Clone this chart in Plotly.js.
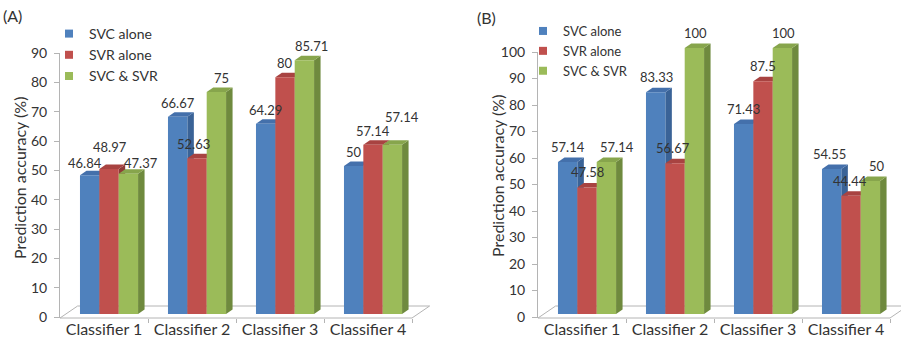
<!DOCTYPE html>
<html>
<head>
<meta charset="utf-8">
<script src="https://cdn.plot.ly/plotly-3.0.1.min.js"></script>
<style>
  html, body { margin: 0; padding: 0; background: #ffffff; }
  #chart { width: 901px; height: 348px; }
</style>
</head>
<body>
<div id="chart"></div>
<script>
// ---- data ----
const categories = ['Classifier 1', 'Classifier 2', 'Classifier 3', 'Classifier 4'];
const seriesNames = ['SVC alone', 'SVR alone', 'SVC & SVR'];
const valueTitle = 'Prediction accuracy (%)';

// panel (A)
const svcAloneA = [46.84, 66.67, 64.29, 50];
const svrAloneA = [48.97, 52.63, 80, 57.14];
const svcSvrA   = [47.37, 75, 85.71, 57.14];
const yTicksA   = [0, 10, 20, 30, 40, 50, 60, 70, 80, 90];

// panel (B)
const svcAloneB = [57.14, 83.33, 71.43, 54.55];
const svrAloneB = [47.58, 56.67, 87.5, 44.44];
const svcSvrB   = [57.14, 100, 100, 50];
const yTicksB   = [0, 10, 20, 30, 40, 50, 60, 70, 80, 90, 100];

// ---- styling / geometry ----
const W = 901, H = 348;
const FONT = 'Lato, "Open Sans", sans-serif';
const TEXT = '#333333';
const AXIS = '#b4b4b4';
const FRONT = ['#4f81bd', '#c0504d', '#9bbb59'];
const SIDE  = ['#3a6397', '#8f3a37', '#6f8a3e'];
const TOP   = ['#4470ab', '#a84341', '#87a54c'];

const CAT_PX = 88;          // width of one category slot
const BAR_W = 0.22;         // bar width (category units)
const FIRST_OFFSET = -0.273;
const DEPTH_X = 0.074;      // bar depth, category units
const FLOOR_DX = 0.2;       // floor depth, category units
const FLOOR_DY_PX = 12;
const FLOOR_PX = 318;       // front edge of the floor
const CEIL_PX = 20;

const py = p => (H - p) / H;
const pxf = p => p / W;
const catPos = categories.map((_, i) => i + 1);

const panels = [
  {
    tag: '(A)', series: [svcAloneA, svrAloneA, svcSvrA], yTicks: yTicksA,
    xa: 'x', ya: 'y', ba: 'y3', legend: 'legend',
    axisLeft: 60, xMax: 4.75, zeroPx: 317, topPx: 53,
    barBasePx: 314, barScale: 2.96, depthYPx: 4.5,
    labelLift: 14,
    labelDx: [[-5, 0, 0, 0], [1, -4, 0, 0], [13, 5, 7, 10]],
    labelDy: [[-2, 0, 0, 0], [8, 0, 0, 0], [-3, 0, 0, 14]],
    legendFont: 14, legendX: 49, legendY: 18,
    tagX: 1, tagAnchor: 'left', tagY: 15,
    titleX: 19, titleY: 178
  },
  {
    tag: '(B)', series: [svcAloneB, svrAloneB, svcSvrB], yTicks: yTicksB,
    xa: 'x2', ya: 'y2', ba: 'y4', legend: 'legend2',
    axisLeft: 538, xMax: 0.5 + (901 - 538) / 88, zeroPx: 317, topPx: 52,
    barBasePx: 314, barScale: 2.66, depthYPx: 4.5,
    labelLift: 15,
    labelDx: [[0, 1, 0, -2], [0, -2, 0, -1], [11, 1, 1, 7]],
    labelDy: [[0, 0, 0, 0], [0, 0, 0, 0], [0, 0, 0, 0]],
    legendFont: 13, legendX: 523, legendY: 16,
    tagX: 475, tagAnchor: 'left', tagY: 18,
    titleX: 497, titleY: 176
  }
];

const axisKey = id => (id[0] === 'x' ? 'xaxis' : 'yaxis') + id.slice(1);

const traces = [];
const shapes = [];
const annotations = [];
const layout = {
  width: W, height: H,
  margin: { l: 0, r: 0, t: 0, b: 0 },
  paper_bgcolor: '#ffffff', plot_bgcolor: 'rgba(0,0,0,0)',
  barmode: 'overlay', showlegend: true, hovermode: false,
  font: { family: FONT, color: TEXT }
};

panels.forEach(p => {
  const topVal = p.yTicks[p.yTicks.length - 1];
  const k = (p.zeroPx - p.topPx) / topVal;
  const xRight = p.axisLeft + (p.xMax - 0.5) * CAT_PX;
  const depthY = p.depthYPx / p.barScale;

  layout[axisKey(p.xa)] = {
    anchor: p.ya, domain: [pxf(p.axisLeft), Math.min(1, pxf(xRight))],
    range: [0.5, p.xMax], showgrid: false, zeroline: false, showline: false,
    tickmode: 'array', tickvals: catPos, ticktext: categories, ticks: '',
    ticklabelstandoff: 0,
    tickfont: { family: FONT, size: 16, color: TEXT },
    minor: { tickmode: 'array', tickvals: [1.5, 2.5, 3.5, 4.5], ticks: 'outside',
             ticklen: 4, tickcolor: AXIS, tickwidth: 1 }
  };
  layout[axisKey(p.ya)] = {
    anchor: p.xa, domain: [py(FLOOR_PX), py(p.topPx)],
    range: [-(FLOOR_PX - p.zeroPx) / k, topVal],
    showgrid: false, zeroline: false, showline: true, linecolor: AXIS, linewidth: 1,
    ticks: 'outside', ticklen: 5, tickcolor: AXIS, tickwidth: 1,
    tickmode: 'array', tickvals: p.yTicks, ticktext: p.yTicks.map(String),
    ticklabelstandoff: 4,
    tickfont: { family: FONT, size: 14, color: TEXT }
  };
  layout[axisKey(p.ba)] = {
    anchor: p.xa, domain: [py(FLOOR_PX), py(CEIL_PX)],
    range: [(p.barBasePx - FLOOR_PX) / p.barScale, (p.barBasePx - CEIL_PX) / p.barScale],
    visible: false, fixedrange: true
  };
  layout[p.legend] = {
    x: pxf(p.legendX), y: py(p.legendY), xanchor: 'left', yanchor: 'top',
    xref: 'paper', yref: 'paper', bgcolor: 'rgba(0,0,0,0)', borderwidth: 0,
    font: { family: FONT, size: p.legendFont, color: TEXT },
    tracegroupgap: 0, itemclick: false, itemdoubleclick: false
  };

  // floor of the 3-D plot area
  const fx = v => (v - 0.5) / (p.xMax - 0.5);
  const fd = FLOOR_DY_PX / (FLOOR_PX - p.topPx);
  shapes.push({
    type: 'path', xref: p.xa + ' domain', yref: p.ya + ' domain', layer: 'below',
    path: `M0,0 L${fx(4.5)},0 L${fx(4.5 + FLOOR_DX)},${fd} L${fx(0.5 + FLOOR_DX)},${fd} Z`,
    line: { color: AXIS, width: 1 }, fillcolor: 'rgba(0,0,0,0)'
  });

  // front faces as bar traces
  p.series.forEach((vals, s) => {
    traces.push({
      type: 'bar', x: catPos, y: vals, xaxis: p.xa, yaxis: p.ba,
      width: BAR_W, offset: FIRST_OFFSET + s * BAR_W,
      marker: { color: FRONT[s], line: { width: 0 } },
      showlegend: false, hoverinfo: 'skip', name: seriesNames[s]
    });
    // legend entry (sits on the visible value axis so that axis is drawn)
    traces.push({
      type: 'scatter', mode: 'markers', x: [null], y: [null], xaxis: p.xa, yaxis: p.ya,
      name: seriesNames[s], legend: p.legend, legendgroup: p.tag + s,
      marker: { symbol: 'square', size: 8, color: FRONT[s] }, hoverinfo: 'skip'
    });
  });

  // side and top faces, drawn left to right so later bars overlap earlier ones
  catPos.forEach((c, i) => {
    p.series.forEach((vals, s) => {
      const v = vals[i];
      const x0 = c + FIRST_OFFSET + s * BAR_W;
      const x1 = x0 + BAR_W;
      shapes.push({
        type: 'path', xref: p.xa, yref: p.ba, layer: 'below',
        path: `M${x1},0 L${x1 + DEPTH_X},${depthY} L${x1 + DEPTH_X},${v + depthY} L${x1},${v} Z`,
        fillcolor: SIDE[s], line: { width: 0 }
      });
      shapes.push({
        type: 'path', xref: p.xa, yref: p.ba, layer: 'below',
        path: `M${x0},${v} L${x1},${v} L${x1 + DEPTH_X},${v + depthY} L${x0 + DEPTH_X},${v + depthY} Z`,
        fillcolor: TOP[s], line: { width: 0 }
      });
      annotations.push({
        xref: p.xa, yref: p.ba, x: (x0 + x1) / 2, y: v,
        text: String(v), showarrow: false, xanchor: 'center', yanchor: 'middle',
        xshift: p.labelDx[s][i], yshift: p.labelLift + p.labelDy[s][i],
        font: { family: FONT, size: 13, color: TEXT }
      });
    });
  });

  // panel tag and value-axis title
  annotations.push({
    xref: 'paper', yref: 'paper', x: pxf(p.tagX), y: py(p.tagY),
    xanchor: p.tagAnchor, yanchor: 'middle', showarrow: false,
    text: p.tag, font: { family: FONT, size: 16, color: TEXT }
  });
  annotations.push({
    xref: 'paper', yref: 'paper', x: pxf(p.titleX), y: py(p.titleY),
    xanchor: 'center', yanchor: 'middle', showarrow: false, textangle: -90,
    text: valueTitle, font: { family: FONT, size: 16, color: TEXT }
  });
});

layout.shapes = shapes;
layout.annotations = annotations;

Plotly.newPlot('chart', traces, layout, { displayModeBar: false, staticPlot: true });
</script>
</body>
</html>
